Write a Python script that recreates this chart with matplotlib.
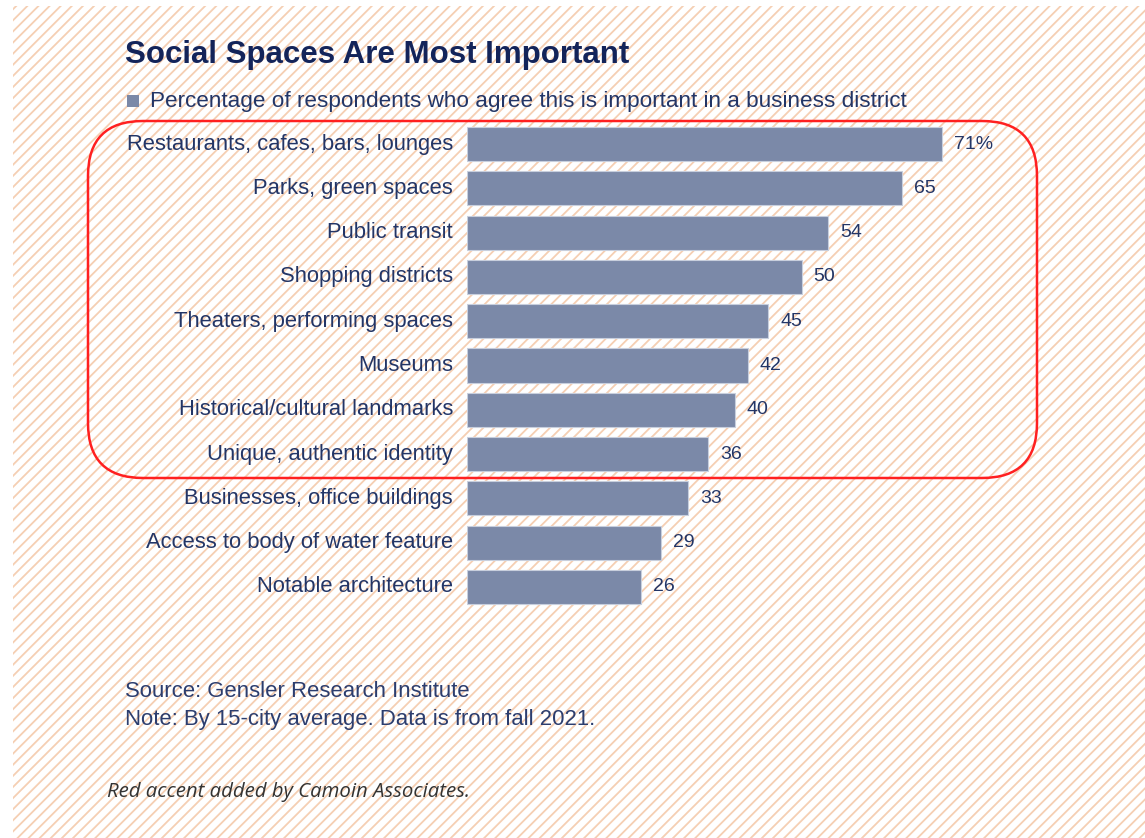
import matplotlib.pyplot as plt
from matplotlib.patches import Rectangle, FancyBboxPatch

# survey results, share of respondents (%)
categories = [
    "Restaurants, cafes, bars, lounges",
    "Parks, green spaces",
    "Public transit",
    "Shopping districts",
    "Theaters, performing spaces",
    "Museums",
    "Historical/cultural landmarks",
    "Unique, authentic identity",
    "Businesses, office buildings",
    "Access to body of water feature",
    "Notable architecture",
]
values = [71, 65, 54, 50, 45, 42, 40, 36, 33, 29, 26]
value_labels = ["71%"] + [str(v) for v in values[1:]]

navy = "#13245a"
bar_color = "#7b89a8"
text_color = "#233566"

plt.rcParams["font.family"] = ["Liberation Sans", "DejaVu Sans"]
plt.rcParams["hatch.linewidth"] = 1.3

W, H = 1145, 838
fig = plt.figure(figsize=(W / 100, H / 100), dpi=100)

# full-figure overlay in pixel units for the backdrop and annotations
bg = fig.add_axes([0, 0, 1, 1], zorder=-1)
bg.set_xlim(0, W)
bg.set_ylim(H, 0)
bg.axis("off")
bg.add_patch(Rectangle((13, 6), W - 13, H - 6, facecolor="white",
                       edgecolor="#f5cfb3", hatch="///", linewidth=0))

# bar chart
ax = fig.add_axes([467 / W, 1 - 609 / H, 669 / W, (609 - 122) / H])
ax.set_facecolor("none")
ypos = list(range(len(categories)))
ax.barh(ypos, values, height=0.77, color=bar_color, edgecolor="#c8cfdd",
        linewidth=0.8)
ax.set_xlim(0, 100)
ax.set_ylim(len(categories) - 0.5, -0.5)
ax.axis("off")

for y, v, lab, cat in zip(ypos, values, value_labels, categories):
    ax.annotate(lab, (v, y), xytext=(12, 0), textcoords="offset pixels",
                ha="left", va="center", fontsize=14, color=text_color)
    ax.annotate(cat, (0, y), xytext=(-14, 0), textcoords="offset pixels",
                ha="right", va="center", fontsize=15.8, color=text_color)

# titles and notes
bg.text(125, 55, "Social Spaces Are Most Important", fontsize=22.5,
        fontweight="bold", color=navy, ha="left", va="center")
bg.add_patch(Rectangle((127, 95), 12, 12, facecolor=bar_color, linewidth=0))
bg.text(150, 101,
        "Percentage of respondents who agree this is important in a business district",
        fontsize=16.2, color=text_color, ha="left", va="center")
bg.text(125, 691, "Source: Gensler Research Institute", fontsize=15.9,
        color="#2c3d6e", ha="left", va="center")
bg.text(125, 719, "Note: By 15-city average. Data is from fall 2021.",
        fontsize=15.9, color="#2c3d6e", ha="left", va="center")
bg.text(107, 792, "Red accent added by Camoin Associates.", fontsize=14.7,
        fontstyle="italic", family="Open Sans", color="#333333",
        ha="left", va="center")

# red highlight around the top eight items
bg.add_patch(FancyBboxPatch((88, 121), 1037 - 88, 478 - 121,
                            boxstyle="round,pad=0,rounding_size=55",
                            facecolor="none", edgecolor="#ff2020",
                            linewidth=1.8, zorder=5))

fig.savefig("out.png", dpi=100)
